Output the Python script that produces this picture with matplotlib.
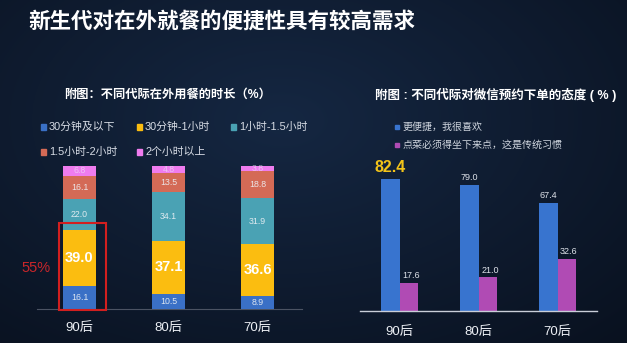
import matplotlib.pyplot as plt
from matplotlib.patches import Rectangle
import numpy as np

plt.rcParams['font.family'] = ['Liberation Sans', 'Noto Sans CJK SC', 'DejaVu Sans']

# data
gens = ['90后', '80后', '70后']
seg_names = ['30分钟及以下', '30分钟-1小时', '1小时-1.5小时', '1.5小时-2小时', '2个小时以上']
seg_vals = [
    [16.1, 10.5, 8.9],
    [39.0, 37.1, 36.6],
    [22.0, 34.1, 31.9],
    [16.1, 13.5, 18.8],
    [6.8, 4.8, 3.8],
]
seg_colors = ['#3a70c6', '#fbbd10', '#4aa2b4', '#d46a56', '#ef7cee']

att_names = ['更便捷，我很喜欢', '点菜必须得坐下来点，这是传统习惯']
like_vals = [82.4, 79.0, 67.4]
trad_vals = [17.6, 21.0, 32.6]
att_colors = ['#3874cf', '#b04bb4']

W, H = 627, 343
fig = plt.figure(figsize=(W / 100, H / 100), dpi=100)
fig.patch.set_facecolor('#0b1424')

# background gradient
bg = fig.add_axes([0, 0, 1, 1])
yy, xx = np.mgrid[0:1:200j, 0:1:360j]
r = np.sqrt(((xx - 0.45) / 0.8) ** 2 + ((yy - 0.35) / 0.9) ** 2)
shade = np.clip(1 - r, 0, 1)
c0 = np.array([0x09, 0x11, 0x1f]) / 255
c1 = np.array([0x15, 0x27, 0x42]) / 255
img = c0 + (c1 - c0) * shade[..., None]
bg.imshow(img, aspect='auto', extent=[0, 1, 0, 1])
bg.axis('off')


def px(x0, y0, x1, y1):
    # pixel box (top-left origin) -> figure fraction rect
    return [x0 / W, 1 - y1 / H, (x1 - x0) / W, (y1 - y0) / H]


fig.text(28 / W, 1 - 22 / H, '新生代对在外就餐的便捷性具有较高需求', color='white',
         fontsize=15.5, fontweight='bold', va='center', ha='left')

# ---- left chart: stacked bars
ax1 = fig.add_axes(px(35, 166, 302, 309))
x = np.arange(len(gens))
bottom = np.zeros(len(gens))
for i, vals in enumerate(seg_vals):
    ax1.bar(x, vals, width=0.37, bottom=bottom, color=seg_colors[i], zorder=2)
    for j, v in enumerate(vals):
        yc = bottom[j] + v / 2
        if i == 1:
            ax1.text(x[j], yc, f'{v:.1f}', color='white', fontsize=10.5,
                     fontweight='bold', ha='center', va='center')
        else:
            ax1.text(x[j], yc, f'{v:.1f}', color='#eef2f6', fontsize=6.3,
                     ha='center', va='center', alpha=0.9 if i != 4 else 0.6)
    bottom += np.array(vals)
ax1.set_xlim(-0.5, 2.5)
ax1.set_ylim(0, 100)
ax1.axis('off')
ax1.plot([-0.48, 2.5], [0, 0], color='#4b5363', lw=0.8, clip_on=False, zorder=1)
for j, g in enumerate(gens):
    ax1.text(x[j], -13.5, g, color='#eceff4', fontsize=9.5, ha='center', va='center')

# highlight box around 90后 lower two segments
low2 = seg_vals[0][0] + seg_vals[1][0]
ax1.add_patch(Rectangle((-0.23, -0.6), 0.53, low2 + 5.5, fill=False,
                        edgecolor='#d21f1f', lw=1.5, clip_on=False, zorder=3))
ax1.text(-0.49, 28.5, '55%', color='#c8262a', fontsize=10.5, ha='center', va='center')

fig.text(64 / W, 1 - 95 / H, '附图：不同代际在外用餐的时长（%）', color='white',
         fontsize=8.8, fontweight='bold', ha='left', va='center')

leg_pos = [(43, 127), (139, 127), (233, 127), (43, 152), (139, 152)]
for (lx, ly), name, c in zip(leg_pos, seg_names, seg_colors):
    fig.add_artist(Rectangle(((lx - 2.5) / W, 1 - (ly + 2.5) / H), 5 / W, 5 / H,
                             color=c, transform=fig.transFigure))
    fig.text((lx + 6) / W, 1 - ly / H, name, color='#d8dde6', fontsize=7.8,
             ha='left', va='center')

# ---- right chart: grouped bars
ax2 = fig.add_axes(px(360, 151, 597, 311))
bw = 0.23
ax2.bar(x - bw / 2, like_vals, width=bw, color=att_colors[0], zorder=2)
ax2.bar(x + bw / 2, trad_vals, width=bw, color=att_colors[1], zorder=2)
for j in range(len(gens)):
    if j == 0:
        ax2.text(x[j] - bw / 2, like_vals[j] + 7.5, f'{like_vals[j]:.1f}', color='#f3c419',
                 fontsize=11.5, fontweight='bold', ha='center', va='center')
    else:
        ax2.text(x[j] - bw / 2, like_vals[j] + 4.5, f'{like_vals[j]:.1f}', color='#dfe3ea',
                 fontsize=6.5, ha='center', va='center')
    ax2.text(x[j] + bw / 2 + 0.03, trad_vals[j] + 4.5, f'{trad_vals[j]:.1f}', color='#dfe3ea',
             fontsize=6.5, ha='center', va='center')
ax2.set_xlim(-0.5, 2.5)
ax2.set_ylim(0, 100)
ax2.axis('off')
ax2.plot([-0.5, 2.5], [0, 0], color='#c9ced8', lw=1.0, clip_on=False, zorder=3)
for j, g in enumerate(gens):
    ax2.text(x[j], -13, g, color='#eceff4', fontsize=9.5, ha='center', va='center')

fig.text(375 / W, 1 - 95 / H, '附图 : 不同代际对微信预约下单的态度 ( % )', color='white',
         fontsize=9, fontweight='bold', ha='left', va='center')
for k, (name, c) in enumerate(zip(att_names, att_colors)):
    ly = 127 + 18 * k
    fig.add_artist(Rectangle((395 / W, 1 - (ly + 2) / H), 4 / W, 4 / H,
                             color=c, transform=fig.transFigure))
    fig.text(403 / W, 1 - ly / H, name, color='#cfd5de', fontsize=7.2,
             ha='left', va='center')

fig.savefig('out.png', dpi=100, facecolor=fig.get_facecolor())
